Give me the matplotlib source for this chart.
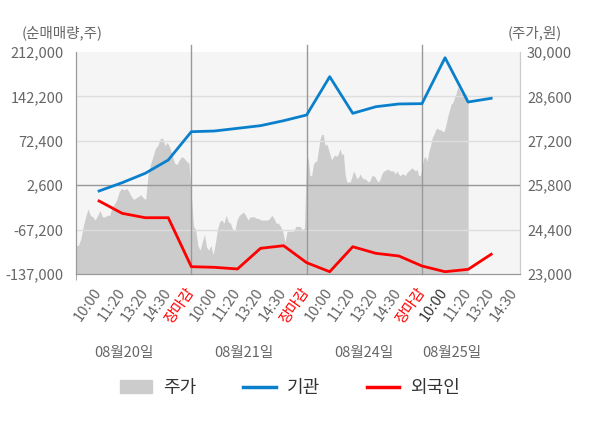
import numpy as np
import matplotlib
matplotlib.use("Agg")
import matplotlib.pyplot as plt
from matplotlib.patches import Patch
from matplotlib.lines import Line2D

plt.rcParams['font.family'] = ['Noto Sans CJK KR', 'DejaVu Sans']

# x tick labels (one per slot) and day labels
tick_labels = ["10:00", "11:20", "13:20", "14:30", "장마감"] * 3 + ["10:00", "11:20", "13:20", "14:30"]
days = ["08월20일", "08월21일", "08월24일", "08월25일"]

# net buying volume (shares), one value per slot
inst = [-6500, 6500, 21300, 42200, 86700,
        87800, 92000, 96200, 104000, 113000,
        173200, 115600, 126000, 130300, 130800,
        203000, 133400, 139200]
foreign = [-22200, -41600, -48500, -48500, -125500,
           -126500, -129100, -96600, -92500, -119200,
           -133400, -94100, -104500, -108700, -124400,
           -133400, -129700, -106000]

# intraday price (won), per day
price_d1 = [23900, 23900, 24100, 24500, 24800, 25050, 24850, 24800, 24700, 24850,
            25000, 24800, 24800, 24850, 24850, 25100, 25200, 25350, 25600, 25700,
            25650, 25700, 25600, 25450, 25350, 25400, 25450, 25500, 25400, 25350,
            26150, 26450, 26700, 26950, 27050, 27250, 27300, 27050, 27150, 27000,
            26750, 26500, 26450, 26600, 26700, 26650, 26550, 26500]
price_d2 = [25500, 24500, 24400, 23900, 23750, 24000, 24250, 23850, 23750, 23900,
            23600, 23950, 24400, 24650, 24700, 24600, 24850, 24650, 24600, 24400,
            24350, 24700, 24850, 24900, 24950, 24850, 24700, 24800, 24800, 24800,
            24750, 24750, 24700, 24700, 24700, 24700, 24750, 24850, 24750, 24600,
            24600, 24500, 24350, 24000, 24350, 24350, 24350, 24350, 24500, 24500,
            24500, 24400, 24450]
price_d3 = [26800, 26600, 26100, 26100, 26450, 26550, 26550, 26900, 27250, 27400,
            27400, 27050, 27100, 26950, 26750, 26600, 26700, 26750, 26700, 26800,
            26950, 26750, 26800, 26150, 25900, 25900, 25900, 26050, 26250, 26150,
            26000, 26050, 26150, 26050, 26000, 26000, 25950, 25900, 25950, 26100,
            26100, 26050, 25950, 25900, 26000, 26150, 26250, 26250, 26300, 26300,
            26250, 26250, 26250, 26150, 26250, 26150, 26100, 26150, 26150, 26100,
            26200, 26250, 26300, 26350, 26300, 26250, 26300, 26100, 26100]
price_d4 = [26350, 26650, 26700, 26550, 26850, 27050, 27300, 27400, 27550, 27600,
            27550, 27550, 27500, 27500, 27700, 27950, 28150, 28350, 28400, 28550,
            28700, 28900, 28800, 28650, 28750, 28600, 28700, 28450]

vol_ticks = [-137000, -67200, 2600, 72400, 142200, 212000]
price_ticks = [23000, 24400, 25800, 27200, 28600, 30000]

fig = plt.figure(figsize=(6, 4.28), dpi=100)
ax2 = fig.add_axes([76 / 600, 1 - 274 / 428, 444 / 600, 222 / 428])
ax = ax2.twinx()
ax.yaxis.tick_left()
ax2.yaxis.tick_right()
ax.set_zorder(ax2.get_zorder() + 1)
ax.patch.set_visible(False)
ax2.set_facecolor("#f5f5f5")

# price area: each day fills its 5 slots, the last one up to 11:20
px, py = [], []
for k, d in enumerate([price_d1, price_d2, price_d3]):
    px += list(np.linspace(5 * k, 5 * k + 5, len(d), endpoint=False))
    py += d
px += list(np.linspace(15, 17, len(price_d4)))
py += price_d4
ax2.fill_between(px, py, 23000, color="#cccccc", lw=0)
ax2.set_ylim(23000, 30000)
ax2.set_yticks(price_ticks)
ax2.set_yticklabels([f"{v:,}" for v in price_ticks])

xs = np.arange(1, len(inst) + 1)
ax.plot(xs, inst, color="#0a80cc", lw=2)
ax.plot(xs, foreign, color="#ff0000", lw=2)
ax.set_ylim(-137000, 212000)
ax.set_yticks(vol_ticks)
ax.set_yticklabels([f"{v:,}" for v in vol_ticks])
for v in vol_ticks[1:-1]:
    c = "#999999" if v == 2600 else "#dddddd"
    ax.axhline(v, color=c, lw=1, zorder=0.5)
for v in [5, 10, 15]:
    ax.axvline(v, ymin=0, ymax=1.03, color="#999999", lw=1, clip_on=False, zorder=0.6)

ax2.set_xlim(0, 19.25)
ax2.set_xticks(np.arange(1, len(tick_labels) + 1))
ax2.set_xticklabels(tick_labels, rotation=55, ha="right", va="center", rotation_mode="anchor")
ax2.set_xticks([0, 5, 10, 15], minor=True)
ax2.tick_params(axis="x", which="major", length=0, pad=11, labelsize=10.5, colors="#666666")
ax2.tick_params(axis="x", which="minor", length=4, color="#999999")
for i, t in enumerate(ax2.get_xticklabels()):
    if tick_labels[i] == "장마감":
        t.set_color("#ff0000")
    elif i == 15:
        t.set_color("#333333")

ax.tick_params(axis="y", length=0, pad=9, labelsize=10.5, colors="#666666")
ax2.tick_params(axis="y", length=0, pad=5, labelsize=10.5, colors="#666666")

for a in (ax, ax2):
    a.spines["top"].set_visible(False)
    a.spines["left"].set_color("#999999")
    a.spines["bottom"].set_color("#999999")
    a.spines["right"].set_color("#cccccc")

fig.text(22 / 600, 1 - 33 / 428, "(순매매량,주)", fontsize=10.5, color="#666666", va="center")
fig.text(508 / 600, 1 - 33 / 428, "(주가,원)", fontsize=10.5, color="#666666", va="center")

day_pos = [2.1, 7.3, 12.5, 16.3]
for x, d in zip(day_pos, days):
    ax2.text(x, -0.356, d, transform=ax2.get_xaxis_transform(), ha="center", va="center",
             fontsize=10.5, color="#666666")

handles = [Patch(color="#cccccc"),
           Line2D([], [], color="#0a80cc", lw=2.5),
           Line2D([], [], color="#ff0000", lw=2.5)]
fig.legend(handles, ["주가", "기관", "외국인"], loc="center", bbox_to_anchor=(0.483, 1 - 388 / 428),
           ncol=3, frameon=False, fontsize=13, handlelength=1.8, handletextpad=0.6,
           columnspacing=2.6, labelcolor="#333333")

fig.savefig("out.png", dpi=100)
